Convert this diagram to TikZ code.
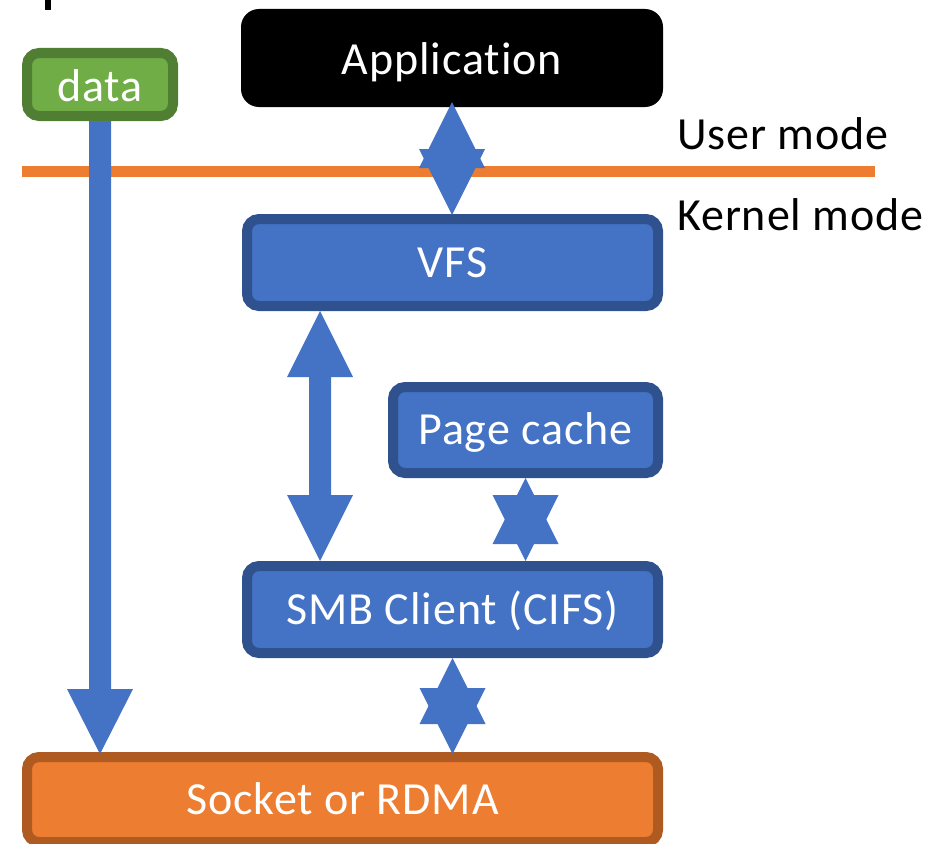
\documentclass[tikz,border=0pt]{standalone}
\usepackage{fontspec}
\setmainfont{Carlito}[Ligatures=NoCommon, LetterSpace=2]
\usetikzlibrary{calc}

\definecolor{boxblue}{HTML}{4472C4}
\definecolor{boxblueedge}{HTML}{2F528F}
\definecolor{boxgreen}{HTML}{70AD47}
\definecolor{boxgreenedge}{HTML}{507E32}
\definecolor{boxorange}{HTML}{ED7D31}
\definecolor{boxorangeedge}{HTML}{AE5A21}

\tikzset{
  lbl/.style={font=\fontsize{46}{55}\selectfont, text height=29.6pt, text depth=0pt, inner sep=0pt},
  layerbox/.style={lbl, text=white, rectangle, rounded corners=12pt, line width=10pt},
  bluebox/.style={layerbox, fill=boxblue, draw=boxblueedge},
  greenbox/.style={layerbox, fill=boxgreen, draw=boxgreenedge},
  orangebox/.style={layerbox, fill=boxorange, draw=boxorangeedge},
  appbox/.style={lbl, text=white, rectangle, rounded corners=18pt, fill=black},
  flow/.style={fill=boxblue},
  modeline/.style={draw=boxorange, line width=11pt},
  modetext/.style={lbl, text=black, anchor=base west}
}

% two overlapping arrow heads pointing at #1 (up) and #2 (down)
\newcommand{\twinheads}[2]{%
  \fill[flow] #1 -- ++(-33,66) -- ++(66,0) -- cycle;
  \fill[flow] #2 -- ++(-33,-66) -- ++(66,0) -- cycle;
}

\begin{document}
\begin{tikzpicture}[x=1pt,y=-1pt]
\useasboundingbox (0,0) rectangle (925,843);

% stroke left over from a heading above
\fill[black] (45,0) rectangle (51,10);

% user / kernel boundary
\coordinate (lineL) at (22,171.5);
\coordinate (lineR) at (875,171.5);
\draw[modeline] (lineL) -- (lineR);
\node[modetext] (user) at (677,149) {User mode};
\node[modetext] (kernel) at (677,230) {Kernel mode};

% layers
\node[appbox, minimum width=422pt, minimum height=98pt] (app) at (452,58) {\raisebox{-2pt}{Application}};
\node[greenbox, minimum width=146pt, minimum height=63pt] (data) at (100,84.5) {\raisebox{-2pt}{data}};
\node[bluebox, minimum width=411pt, minimum height=87pt] (vfs) at (452.5,262.5) {VFS};
\node[bluebox, minimum width=265pt, minimum height=86pt] (page) at (525.5,430) {Page cache};
\node[bluebox, minimum width=411pt, minimum height=87pt] (smb) at (452.5,609.5) {SMB Client (CIFS)};
\node[orangebox, minimum width=631pt, minimum height=85pt] (sock) at (342.5,799.5) {Socket or RDMA};

% Application <-> VFS
\coordinate (a1) at ([yshift=5pt]app.south);
\coordinate (a2) at ([xshift=-0.5pt,yshift=-1pt]vfs.north);
\twinheads{(a1)}{(a2)}

% VFS <-> SMB client
\coordinate (v1) at ([xshift=-132.5pt]vfs.south);
\coordinate (v2) at ([xshift=-132.5pt]smb.north);
\fill[flow] (v1) -- ++(33,66) -- ++(-22,0) -- ($(v2)+(11,-66)$) -- ++(22,0) -- (v2)
  -- ++(-33,-66) -- ++(22,0) -- ($(v1)+(-11,66)$) -- ++(-22,0) -- cycle;

% Page cache <-> SMB client
\coordinate (p1) at (page.south);
\coordinate (p2) at (page.south |- smb.north);
\twinheads{(p1)}{(p2)}

% SMB client <-> socket
\coordinate (s1) at (smb.south);
\coordinate (s2) at ([yshift=-2pt]smb.south |- sock.north);
\twinheads{(s1)}{(s2)}

% data path straight down to the socket
\coordinate (d1) at (data.south);
\coordinate (d2) at ([yshift=-2pt]data.south |- sock.north);
\fill[flow] ($(d1)+(-11,0)$) -- ($(d2)+(-11,-65)$) -- ++(-22,0) -- (d2) -- ++(33,-65)
  -- ++(-22,0) -- ($(d1)+(11,0)$) -- cycle;
\end{tikzpicture}
\end{document}
